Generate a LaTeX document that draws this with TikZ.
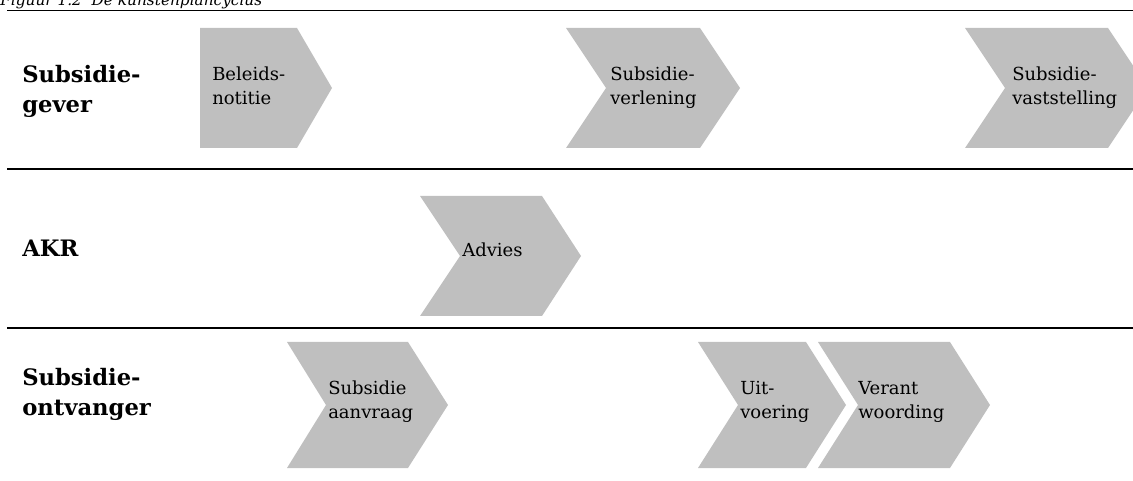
\documentclass[tikz,border=0pt]{standalone}
\usepackage{fontspec}
\setmainfont{DejaVu Serif}
\usetikzlibrary{positioning}
\definecolor{stepgray}{RGB}{191,191,191}

\begin{document}
\begin{tikzpicture}[x=0.75pt, y=-0.75pt,
        stepfill/.style = {fill=stepgray},
        steptext/.style = {anchor=base west, align=left, inner sep=0pt,
            font=\fontsize{13.5}{18}\selectfont},
        actor/.style = {anchor=base west, align=left, inner sep=0pt,
            font=\fontsize{17}{22.5}\selectfont\bfseries},
        rule/.style = {line width=1pt}]
        \useasboundingbox (0,0) rectangle (1133,481);
        \node[anchor=base west, inner sep=0pt, font=\fontsize{11.5}{14}\selectfont\itshape]
            (title) at (0,6) {Figuur 1.2 \ De kunstenplancyclus};
        % lanes
        \draw[rule] (7,10.5) -- (1133,10.5);
        \draw[rule] (7,169) -- (1133,169);
        \draw[rule] (7,328) -- (1133,328);
        \node[actor] (gever) at (22,113) {Subsidie-\\gever};
        \node[actor] (akr) at (22,257) {AKR};
        \node[actor] (ontvanger) at (22,415) {Subsidie-\\ontvanger};
        % steps
        \fill[stepfill] (200,28) -- (297,28) -- (332,88) -- (297,148) -- (200,148) -- cycle;
        \fill[stepfill] (566,28) -- (700,28) -- (740,88) -- (700,148) -- (566,148) -- (606,88) -- cycle;
        \fill[stepfill] (965,28) -- (1108,28) -- (1148,88) -- (1108,148) -- (965,148) -- (1005,88) -- cycle;
        \fill[stepfill] (420,196) -- (542,196) -- (581,256) -- (542,316) -- (420,316) -- (460,256) -- cycle;
        \fill[stepfill] (287,342) -- (408,342) -- (448,405) -- (408,468) -- (287,468) -- (326,405) -- cycle;
        \fill[stepfill] (698,342) -- (806,342) -- (846,405) -- (806,468) -- (698,468) -- (738,405) -- cycle;
        \fill[stepfill] (818,342) -- (950,342) -- (990,405) -- (950,468) -- (818,468) -- (858,405) -- cycle;
        \node[steptext] (beleid) at (212,105) {Beleids-\\notitie};
        \node[steptext] (verlening) at (610,105) {Subsidie-\\verlening};
        \node[steptext] (vaststelling) at (1012,105) {Subsidie-\\vaststelling};
        \node[steptext] (advies) at (462,257) {Advies};
        \node[steptext] (aanvraag) at (328,418) {Subsidie\\aanvraag};
        \node[steptext] (uitvoering) at (740,418) {Uit-\\voering};
        \node[steptext] (verant) at (858,418) {Verant\\woording};
\end{tikzpicture}
\end{document}
